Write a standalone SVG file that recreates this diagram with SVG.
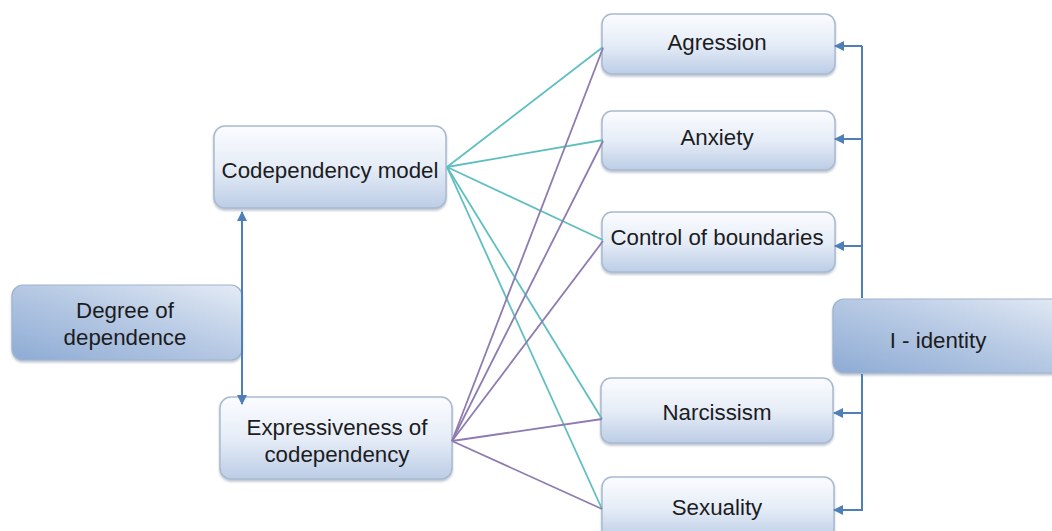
<svg xmlns="http://www.w3.org/2000/svg" width="1052" height="531" viewBox="0 0 1052 531">
<defs>
<linearGradient id="gLight" x1="0" y1="0" x2="0" y2="1">
<stop offset="0" stop-color="#fbfcff"/>
<stop offset="0.5" stop-color="#e6edf7"/>
<stop offset="1" stop-color="#bccde6"/>
</linearGradient>
<linearGradient id="gDark" x1="0" y1="1" x2="1" y2="0">
<stop offset="0" stop-color="#8eabd4"/>
<stop offset="0.55" stop-color="#b9cbe5"/>
<stop offset="1" stop-color="#e4ebf5"/>
</linearGradient>
<filter id="sh" x="-5%" y="-10%" width="110%" height="130%">
<feDropShadow dx="0" dy="2" stdDeviation="1.2" flood-color="#6d7f99" flood-opacity="0.45"/>
</filter>
<marker id="ah" viewBox="0 0 10 10" refX="9" refY="5" markerWidth="10" markerHeight="10" markerUnits="userSpaceOnUse" orient="auto-start-reverse">
<path d="M0,0 L10,5 L0,10 z" fill="#4f7fb8"/>
</marker>
<style>
.box{fill:url(#gLight);stroke:#a9bad0;stroke-width:1.5;filter:url(#sh)}
.dbox{fill:url(#gDark);stroke:#9fb3cf;stroke-width:1.2;filter:url(#sh)}
.t{font-family:"Liberation Sans",Arial,sans-serif;font-size:22.3px;fill:#1c1c1e;text-anchor:middle}
.teal{stroke:#5fbfc0;stroke-width:1.8;fill:none}
.purp{stroke:#8e7bb0;stroke-width:1.8;fill:none}
.blue{stroke:#4f7fb8;stroke-width:2;fill:none}
</style>
</defs>
<rect width="1052" height="531" fill="#ffffff"/>

<g id="codependency-model">
<rect class="box" x="214" y="126" width="232" height="82" rx="11"/>
<text class="t" x="330" y="178">Codependency model</text>
</g>

<g id="degree-of-dependence">
<rect class="dbox" x="12" y="285" width="230" height="75" rx="11"/>
<text class="t" x="125" y="318">Degree of</text>
<text class="t" x="125" y="345">dependence</text>
</g>

<g id="expressiveness">
<rect class="box" x="220" y="397" width="232" height="82" rx="11"/>
<text class="t" x="337" y="435">Expressiveness of</text>
<text class="t" x="337" y="462">codependency</text>
</g>

<g id="agression">
<rect class="box" x="602" y="14" width="233" height="60" rx="10"/>
<text class="t" x="717" y="50">Agression</text>
</g>

<g id="anxiety">
<rect class="box" x="602" y="111" width="233" height="59" rx="10"/>
<text class="t" x="717" y="145">Anxiety</text>
</g>

<g id="control-of-boundaries">
<rect class="box" x="602" y="212" width="233" height="60" rx="10"/>
<text class="t" x="717" y="245">Control of boundaries</text>
</g>

<g id="narcissism">
<rect class="box" x="601" y="378" width="232" height="65" rx="10"/>
<text class="t" x="717" y="420">Narcissism</text>
</g>

<g id="sexuality">
<rect class="box" x="602" y="477" width="232" height="62" rx="10"/>
<text class="t" x="717" y="515">Sexuality</text>
</g>

<g id="i-identity">
<rect class="dbox" x="833" y="299" width="240" height="74" rx="11"/>
<text class="t" x="938" y="348">I - identity</text>
</g>

<g id="connectors">
<line class="teal" x1="447" y1="167" x2="603" y2="47"/>
<line class="teal" x1="447" y1="167" x2="603" y2="140"/>
<line class="teal" x1="447" y1="167" x2="603" y2="240"/>
<line class="teal" x1="447" y1="167" x2="602" y2="419"/>
<line class="teal" x1="447" y1="167" x2="602" y2="509"/>
<line class="purp" x1="452" y1="441" x2="603" y2="48"/>
<line class="purp" x1="452" y1="441" x2="603" y2="141"/>
<line class="purp" x1="452" y1="441" x2="603" y2="241"/>
<line class="purp" x1="452" y1="441" x2="602" y2="419"/>
<line class="purp" x1="452" y1="441" x2="602" y2="509"/>
<line class="blue" x1="242" y1="212" x2="242" y2="404" marker-start="url(#ah)" marker-end="url(#ah)"/>
<line class="blue" x1="862" y1="46" x2="862" y2="298"/>
<line class="blue" x1="862" y1="374" x2="862" y2="510"/>
<line class="blue" x1="862" y1="46" x2="835" y2="46" marker-end="url(#ah)"/>
<line class="blue" x1="862" y1="139" x2="835" y2="139" marker-end="url(#ah)"/>
<line class="blue" x1="862" y1="246" x2="835" y2="246" marker-end="url(#ah)"/>
<line class="blue" x1="862" y1="413" x2="834" y2="413" marker-end="url(#ah)"/>
<line class="blue" x1="863" y1="510" x2="834" y2="510" marker-end="url(#ah)"/>
</g>
</svg>
